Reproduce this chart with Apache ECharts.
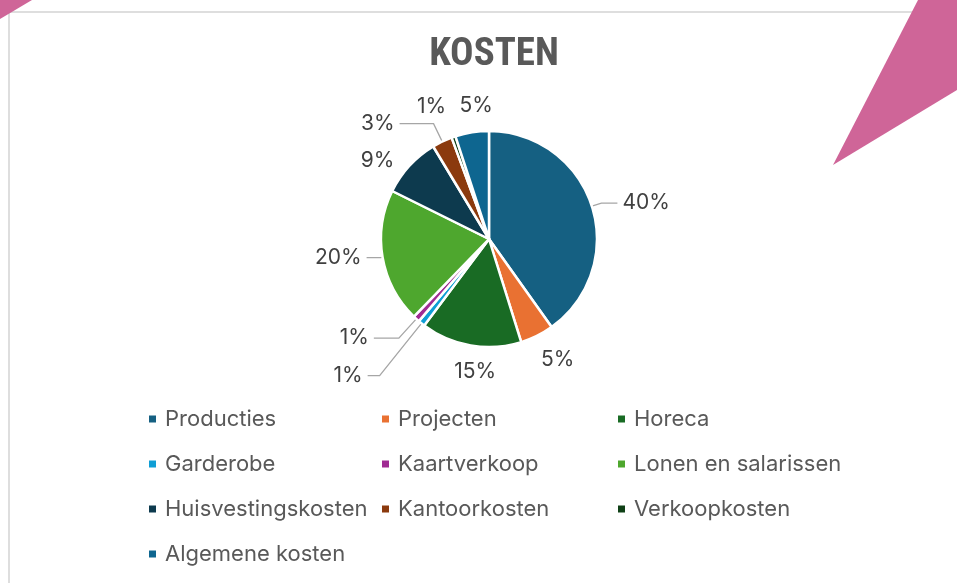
<!DOCTYPE html>
<html><head><meta charset="utf-8">
<script src="https://cdn.jsdelivr.net/npm/echarts@6/dist/echarts.min.js"></script>
<style>html,body{margin:0;padding:0;background:#fff}#c{width:957px;height:583px}</style>
</head><body><div id="c"></div>
<script>
const categories = ['Producties','Projecten','Horeca','Garderobe','Kaartverkoop','Lonen en salarissen','Huisvestingskosten','Kantoorkosten','Verkoopkosten','Algemene kosten'];
const values = [40, 5, 15, 1, 1, 20, 9, 3, 0.6, 5];
const colors = ['#156082','#E97132','#196B24','#0F9ED5','#A02B93','#4EA72E','#0D3A4E','#8B3A0E','#0F4016','#0E6690'];
const legendCols = [
  ['Producties','Garderobe','Huisvestingskosten','Algemene kosten'],
  ['Projecten','Kaartverkoop','Kantoorkosten'],
  ['Horeca','Lonen en salarissen','Verkoopkosten']
];
// label placement styles per slice: [leader line shown, length, length2, distance]
const labelStyles = [
  [true, 10, 16, 5],
  [false, 27, 0, -8],
  [false, 27, 0, -30],
  [true, 67, 12, 5],
  [true, 26, 25, 5],
  [true, 2, 14, 5],
  [false, 7, 0, 10],
  [true, 20, 34, 5],
  [false, 32, 0, -3],
  [false, 27, 0, -25]
];
const legendLeft = [142, 375, 611];
const font = 'Inter, "Noto Sans", sans-serif';

const chart = echarts.init(document.getElementById('c'));
chart.setOption({
  animation: false,
  color: colors,
  title: {
    text: 'KOSTEN', left: 489, top: 31, textAlign: 'center',
    textStyle: { fontFamily: '"Liberation Sans Narrow", "Roboto Condensed", Roboto, sans-serif', fontWeight: 'bold', fontSize: 39, color: '#595959' }
  },
  graphic: [
    { type: 'line', shape: { x1: 9, y1: 12, x2: 957, y2: 12 }, style: { stroke: '#dedede', lineWidth: 2 } },
    { type: 'line', shape: { x1: 9, y1: 12, x2: 9, y2: 583 }, style: { stroke: '#dedede', lineWidth: 2 } },
    { type: 'polygon', shape: { points: [[0,0],[32,0],[0,19]] }, style: { fill: '#CF6598' } },
    { type: 'polygon', shape: { points: [[918,0],[957,0],[957,90],[833,165]] }, style: { fill: '#CF6598' } }
  ],
  legend: legendCols.map((col, i) => ({
    orient: 'vertical', left: legendLeft[i], top: 403,
    data: col, icon: 'rect', itemWidth: 9, itemHeight: 9, itemGap: 23,
    textStyle: { fontFamily: font, fontSize: 22, lineHeight: 22, color: '#595959', padding: [0,0,0,3] },
    selectedMode: false
  })),
  series: [{
    type: 'pie',
    center: [489, 239],
    radius: 108,
    startAngle: 90,
    clockwise: true,
    avoidLabelOverlap: false,
    itemStyle: { borderColor: '#fff', borderWidth: 2.5 },
    label: {
      show: true, position: 'outside',
      fontFamily: font, fontSize: 21, color: '#404040',
      formatter: p => Math.round(p.percent) + '%'
    },
    labelLine: { show: true, lineStyle: { color: '#a6a6a6', width: 1.3 } },
    data: categories.map((n, i) => ({
      name: n, value: values[i],
      label: { distanceToLabelLine: labelStyles[i][3] },
      labelLine: { show: labelStyles[i][0], length: labelStyles[i][1], length2: labelStyles[i][2] }
    }))
  }]
});
</script></body></html>
